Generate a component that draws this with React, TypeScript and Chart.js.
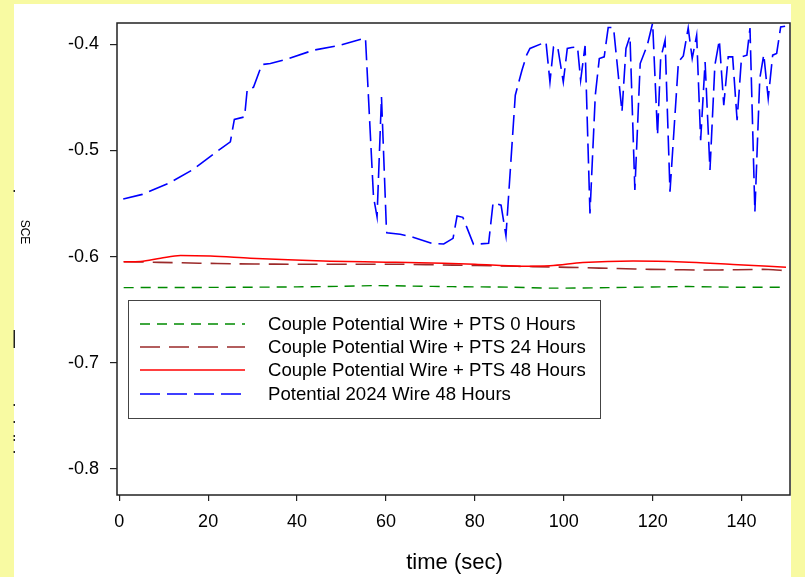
import React, { useEffect, useRef } from 'react';
import { Chart, registerables } from 'chart.js';

Chart.register(...registerables);

// ---- tick labels ----
const xTicks = [0, 20, 40, 60, 80, 100, 120, 140];
const yTicks = [-0.4, -0.5, -0.6, -0.7, -0.8];

// ---- series: Couple Potential Wire + PTS 0 Hours ----
const greenTime = [1, 10, 20, 30, 40, 50, 58, 66, 75, 88, 98, 110, 120, 128, 140, 150];
const greenSce = [-0.6292, -0.6291, -0.629, -0.6288, -0.6285, -0.628, -0.6273, -0.6278, -0.6283, -0.6288, -0.6297, -0.6292, -0.6286, -0.6282, -0.6289, -0.6288];

// ---- series: Couple Potential Wire + PTS 24 Hours ----
const brownTime = [1, 9, 18, 26, 35, 43, 53, 63, 75, 86, 93, 101, 108, 116, 123, 131, 139, 146, 150];
const brownSce = [-0.6048, -0.6054, -0.6062, -0.6068, -0.6071, -0.6072, -0.6072, -0.6072, -0.608, -0.6088, -0.6094, -0.6101, -0.6108, -0.6117, -0.6122, -0.6126, -0.6124, -0.6121, -0.6133];

// ---- series: Couple Potential Wire + PTS 48 Hours ----
const redTime = [1, 4.8, 9.3, 13.8, 20.5, 29.5, 38, 47.5, 60, 72.9, 80, 90.2, 96.9, 104.3, 115.6, 126.8, 138.1, 150];
const redSce = [-0.6048, -0.6045, -0.6015, -0.599, -0.5995, -0.6015, -0.603, -0.6043, -0.6052, -0.6063, -0.6072, -0.609, -0.6086, -0.6056, -0.6041, -0.605, -0.6075, -0.61];

// ---- series: Potential 2024 Wire 48 Hours ----
const blueTime = [0.9, 5.2, 11.1, 16.5, 22.4, 25.0, 25.9, 28.2, 28.8, 30.2, 32.1, 34.0, 38.1, 43.7, 49.7, 55.4, 57.2, 58.0, 59.0, 60.1, 60.2, 63.2, 66.1, 70.3, 73.0, 75.1, 76.0, 77.3, 79.7, 83.1, 84.1, 85.9, 87.0, 89.1, 90.6, 91.7, 92.4, 96.0, 96.9, 97.7, 98.6, 99.9, 100.8, 101.8, 103.1, 103.8, 104.8, 105.9, 107.1, 108.0, 109.1, 110.0, 111.2, 113.1, 114.0, 114.9, 116.0, 117.2, 118.8, 120.0, 121.1, 121.8, 122.8, 123.9, 125.8, 126.9, 128.0, 128.9, 129.9, 130.8, 131.8, 132.9, 134.0, 135.0, 136.0, 137.0, 138.0, 139.0, 140.0, 141.2, 141.9, 143.0, 144.1, 145.0, 146.0, 147.0, 147.9, 148.8, 149.8];
const blueSce = [-0.5458, -0.5414, -0.531, -0.5183, -0.4997, -0.4919, -0.4708, -0.4684, -0.4423, -0.4405, -0.4191, -0.4182, -0.4135, -0.4056, -0.4009, -0.3941, -0.5437, -0.5625, -0.4496, -0.5728, -0.5775, -0.579, -0.5818, -0.5875, -0.5881, -0.5828, -0.5618, -0.563, -0.5884, -0.5875, -0.5493, -0.5515, -0.5803, -0.448, -0.4245, -0.4097, -0.404, -0.3978, -0.4355, -0.4025, -0.4016, -0.4355, -0.404, -0.4031, -0.4025, -0.4339, -0.4016, -0.5593, -0.448, -0.4135, -0.4119, -0.3843, -0.3843, -0.4637, -0.404, -0.3922, -0.5373, -0.4182, -0.4009, -0.38, -0.4856, -0.4135, -0.3962, -0.5389, -0.4167, -0.411, -0.3847, -0.4135, -0.3915, -0.4903, -0.4167, -0.5185, -0.4198, -0.3962, -0.4574, -0.4119, -0.4119, -0.4715, -0.4119, -0.4103, -0.3847, -0.5578, -0.4323, -0.4097, -0.4511, -0.4103, -0.4087, -0.3837, -0.3831];

const seriesLabels = [
  'Couple Potential Wire + PTS 0 Hours',
  'Couple Potential Wire + PTS 24 Hours',
  'Couple Potential Wire + PTS 48 Hours',
  'Potential 2024 Wire 48 Hours',
];
const xTitle = 'time (sec)';
const yTitle = 'SCE';

const FONT = '"Liberation Sans", Arial, sans-serif';

const toPoints = (t: number[], v: number[]) => t.map((x, i) => ({ x, y: v[i] }));

const backgroundPlugin = {
  id: 'bgPanel',
  beforeDraw(chart: any) {
    const ctx = chart.ctx;
    ctx.save();
    ctx.fillStyle = 'rgb(248,250,162)';
    ctx.fillRect(0, 0, chart.width, chart.height);
    ctx.fillStyle = '#ffffff';
    ctx.fillRect(14, 4, 791 - 14, chart.height - 4);
    // clipped fragments at the left edge of the panel
    ctx.fillStyle = '#222';
    const marks: [number, number][] = [[190, 2], [330, 18], [404, 2], [421, 2], [435, 2], [439, 2], [451, 2]];
    marks.forEach(([y, h]) => ctx.fillRect(13.5, y, 1.5, h));
    ctx.restore();
  },
};

const framePlugin = {
  id: 'frameLegend',
  afterDraw(chart: any) {
    const ctx = chart.ctx;
    const a = chart.chartArea;
    ctx.save();
    // plot frame
    ctx.strokeStyle = '#222';
    ctx.lineWidth = 1.5;
    ctx.setLineDash([]);
    ctx.strokeRect(a.left, a.top, a.right - a.left, a.bottom - a.top);

    // legend box
    ctx.lineWidth = 1;
    ctx.strokeStyle = '#444';
    ctx.strokeRect(128.5, 300.5, 472, 118);
    const rowsY = [324, 347, 370, 394];
    const order = [0, 1, 2, 3];
    order.forEach((di, r) => {
      const ds = chart.data.datasets[di];
      const y = rowsY[r];
      ctx.strokeStyle = ds.borderColor;
      ctx.lineWidth = ds.borderWidth;
      ctx.setLineDash(ds.borderDash || []);
      ctx.beginPath();
      ctx.moveTo(140, y);
      ctx.lineTo(245, y);
      ctx.stroke();
      ctx.setLineDash([]);
      ctx.fillStyle = '#000';
      ctx.font = `18.6px ${FONT}`;
      ctx.textAlign = 'left';
      ctx.textBaseline = 'middle';
      ctx.fillText(ds.label, 268, y + 1);
    });

    // axis titles
    ctx.fillStyle = '#000';
    ctx.font = `22px ${FONT}`;
    ctx.textAlign = 'center';
    ctx.textBaseline = 'middle';
    ctx.fillText(xTitle, (a.left + a.right) / 2 + 1, 563);

    ctx.translate(24, 232);
    ctx.rotate(Math.PI / 2);
    ctx.font = `12px ${FONT}`;
    ctx.fillText(yTitle, 0, 0);
    ctx.restore();
  },
};

export default function App() {
  const canvasRef = useRef<HTMLCanvasElement | null>(null);

  useEffect(() => {
    const canvas = canvasRef.current;
    if (!canvas) return;
    const chart = new Chart(canvas, {
      type: 'line',
      data: {
        datasets: [
          {
            label: seriesLabels[0],
            data: toPoints(greenTime, greenSce),
            borderColor: '#008a00',
            borderWidth: 1.4,
            borderDash: [10, 7],
            pointRadius: 0,
            tension: 0.3,
            order: 3,
          },
          {
            label: seriesLabels[1],
            data: toPoints(brownTime, brownSce),
            borderColor: '#9b2a2a',
            borderWidth: 1.6,
            borderDash: [20, 9],
            pointRadius: 0,
            tension: 0.3,
            order: 2,
          },
          {
            label: seriesLabels[2],
            data: toPoints(redTime, redSce),
            borderColor: '#ff0000',
            borderWidth: 1.5,
            pointRadius: 0,
            cubicInterpolationMode: 'monotone',
            order: 1,
          },
          {
            label: seriesLabels[3],
            data: toPoints(blueTime, blueSce),
            borderColor: '#0000ff',
            borderWidth: 1.6,
            borderDash: [20, 7],
            pointRadius: 0,
            tension: 0,
            order: 0,
          },
        ],
      },
      options: {
        animation: false,
        responsive: false,
        devicePixelRatio: 1,
        layout: { padding: { left: 0, top: 23, right: 15, bottom: 0 } },
        plugins: {
          legend: { display: false },
          tooltip: { enabled: false },
          title: { display: false },
        },
        scales: {
          x: {
            type: 'linear',
            min: -0.5,
            max: 150.9,
            afterBuildTicks: (s: any) => {
              s.ticks = xTicks.map((v) => ({ value: v }));
            },
            afterFit: (s: any) => {
              s.height = 577 - 495;
            },
            grid: { drawOnChartArea: false, drawTicks: true, tickLength: 6, color: '#222', lineWidth: 1.2 },
            border: { display: false },
            ticks: {
              color: '#000',
              font: { family: FONT, size: 18 },
              padding: 10,
              maxRotation: 0,
              autoSkip: false,
              callback: (v: any) => String(v),
            },
          },
          y: {
            type: 'linear',
            min: -0.8245,
            max: -0.38,
            afterBuildTicks: (s: any) => {
              s.ticks = yTicks.map((v) => ({ value: v }));
            },
            afterFit: (s: any) => {
              s.width = 117;
            },
            grid: { drawOnChartArea: false, drawTicks: true, tickLength: 7, color: '#222', lineWidth: 1.2 },
            border: { display: false },
            ticks: {
              color: '#000',
              font: { family: FONT, size: 18 },
              padding: 11,
              autoSkip: false,
              callback: (v: any) => Number(v).toFixed(1),
            },
          },
        },
      },
      plugins: [backgroundPlugin, framePlugin],
    } as any);
    return () => chart.destroy();
  }, []);

  return (
    <div style={{ position: 'fixed', left: 0, top: 0, width: 805, height: 577 }}>
      <canvas ref={canvasRef} width={805} height={577} style={{ display: 'block', width: 805, height: 577 }} />
    </div>
  );
}
